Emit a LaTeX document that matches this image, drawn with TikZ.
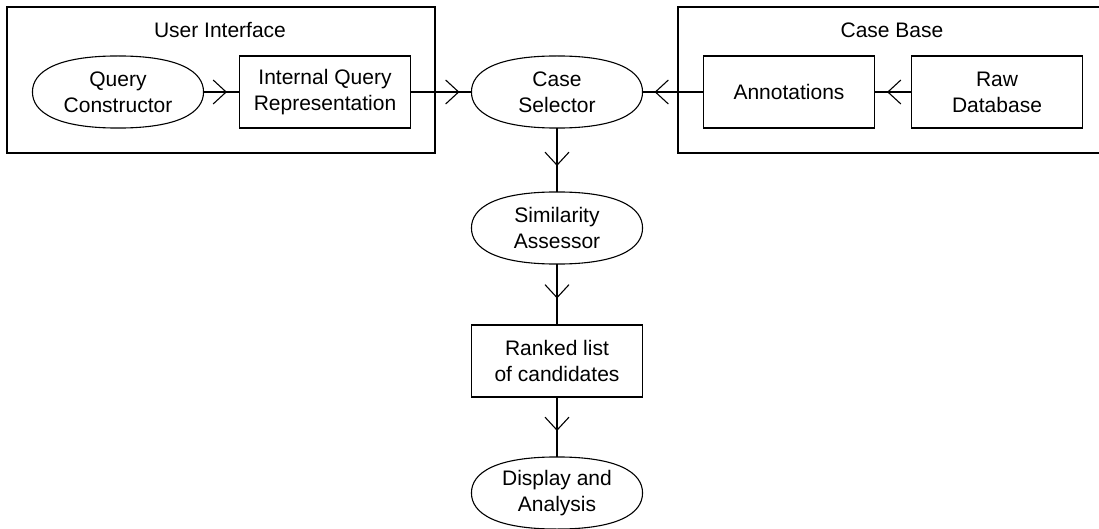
\documentclass[tikz,border=0pt]{standalone}
\usepackage{fontspec}
\setmainfont{Liberation Sans}
\usetikzlibrary{arrows.meta,decorations.markings}

\tikzset{
  block/.style={draw, minimum width=171pt, minimum height=72pt, inner sep=0pt, align=center},
  group/.style={draw},
  oval/.style={minimum width=170pt, minimum height=71pt, inner sep=0pt, align=center,
    append after command={\pgfextra{%
      \draw (\tikzlastnode.west) .. controls +(0,21) and +(-60,0) .. (\tikzlastnode.north)
        .. controls +(60,0) and +(0,21) .. (\tikzlastnode.east)
        .. controls +(0,-21) and +(60,0) .. (\tikzlastnode.south)
        .. controls +(-60,0) and +(0,-21) .. (\tikzlastnode.west);}}},
  flow/.style={decoration={markings, mark=at position -#1 with {\arrow{Straight Barb[length=13pt,width=24pt]}}},
    postaction={decorate}},
  flow/.default=12pt
}

\begin{document}
\begin{tikzpicture}[x=1pt, y=1pt, line width=1.1pt, font=\fontsize{21pt}{26pt}\selectfont]
  \useasboundingbox (0,0) rectangle (1099,-529);
  \clip (0,0) rectangle (1099,-529);
  % user interface
  \draw[group] (7,-7) rectangle (435,-153);
  \node (uilabel) at (220,-30) {User Interface};
  \node[oval]  (query)    at (118,-92) {Query\\Constructor};
  \node[block] (internal) at (325,-92) {Internal Query\\Representation};
  % case base
  \draw[group] (678,-7) rectangle (1110,-153);
  \node (cblabel) at (892,-30) {Case Base};
  \node[block] (annot) at (789,-92) {Annotations};
  \node[block] (raw)   at (997,-92) {Raw\\Database};
  % pipeline
  \node[oval]  (selector) at (557,-92)  {Case\\Selector};
  \node[oval]  (similar)  at (557,-228) {Similarity\\Assessor};
  \node[block] (ranked)   at (557,-361) {Ranked list\\of candidates};
  \node[oval]  (display)  at (557,-493) {Display and\\Analysis};
  % connectors
  \draw[flow] (query) -- (internal);
  \draw[flow] (internal) -- (selector);
  \draw[flow] (annot) -- (selector);
  \draw[flow] (raw) -- (annot);
  \draw[flow=26pt] (selector) -- (similar);
  \draw[flow=26pt] (similar) -- (ranked);
  \draw[flow=26pt] (ranked) -- (display);
\end{tikzpicture}
\end{document}
